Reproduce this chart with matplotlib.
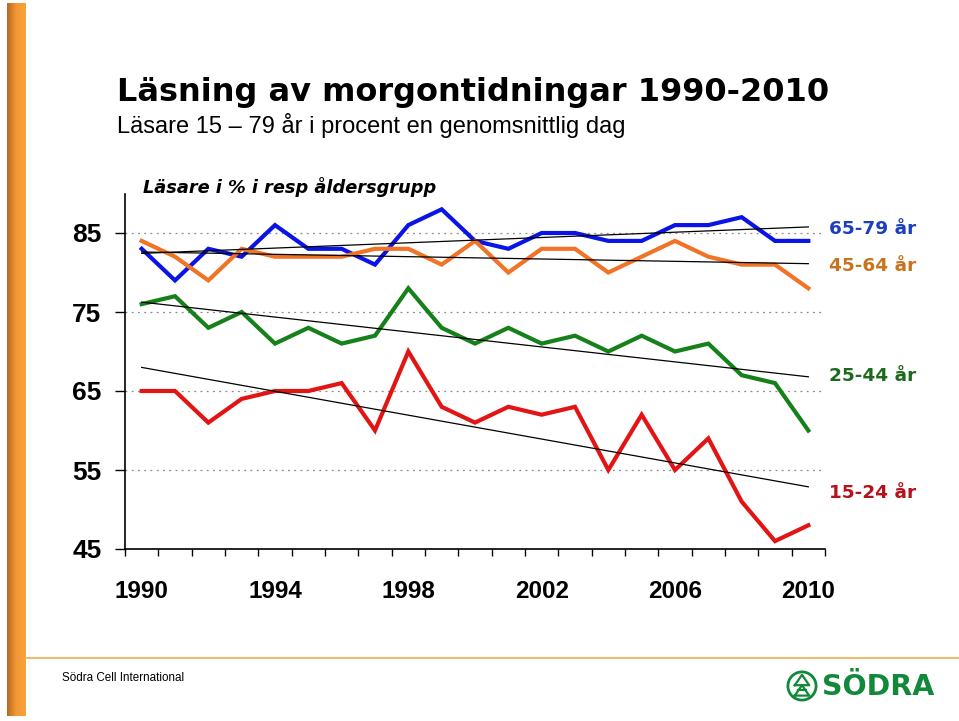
import numpy as np
import matplotlib
matplotlib.use("Agg")
import matplotlib.pyplot as plt
from matplotlib.patches import Circle
from matplotlib.lines import Line2D

# data (percent readers per age group)
years = list(range(1990, 2011))
age_65_79 = [83, 79, 83, 82, 86, 83, 83, 81, 86, 88, 84, 83, 85, 85, 84, 84, 86, 86, 87, 84, 84]
age_45_64 = [84, 82, 79, 83, 82, 82, 82, 83, 83, 81, 84, 80, 83, 83, 80, 82, 84, 82, 81, 81, 78]
age_25_44 = [76, 77, 73, 75, 71, 73, 71, 72, 78, 73, 71, 73, 71, 72, 70, 72, 70, 71, 67, 66, 60]
age_15_24 = [65, 65, 61, 64, 65, 65, 66, 60, 70, 63, 61, 63, 62, 63, 55, 62, 55, 59, 51, 46, 48]

series = [
    ("65-79 år", age_65_79, "#0a14e6", "#1b3fbf", 229),
    ("45-64 år", age_45_64, "#f07326", "#c8731e", 266),
    ("25-44 år", age_25_44, "#16801a", "#1b6b1b", 376),
    ("15-24 år", age_15_24, "#e31414", "#b5121b", 493),
]
y_ticks = [45, 55, 65, 75, 85]
x_label_years = [1990, 1994, 1998, 2002, 2006, 2010]

W, H = 959, 721
fig = plt.figure(figsize=(W / 100, H / 100), dpi=100)


def fx(px):
    return px / W


def fy(py):
    return 1 - py / H


# orange gradient bar on the left
bar = fig.add_axes([fx(7), fy(716), fx(19), (716 - 3) / H])
grad = np.linspace(0, 1, 64).reshape(1, -1)
cmap = matplotlib.colors.LinearSegmentedColormap.from_list("bar", ["#b8691f", "#f59a35", "#f8a23a"])
bar.imshow(grad, aspect="auto", cmap=cmap)
bar.axis("off")

# footer line
fig.add_artist(Line2D([fx(26), 1.0], [fy(658), fy(658)], color="#f3b968", lw=1.4))

# titles
fig.text(fx(117), fy(92), "Läsning av morgontidningar 1990-2010", fontsize=23,
         fontweight="bold", family="DejaVu Sans", va="center", ha="left")
fig.text(fx(117), fy(125), "Läsare 15 – 79 år i procent en genomsnittlig dag", fontsize=17,
         family="Liberation Sans", va="center", ha="left")
fig.text(fx(143), fy(187), "Läsare i % i resp åldersgrupp", fontsize=12.8,
         fontweight="bold", fontstyle="italic", family="DejaVu Sans", va="center", ha="left")

# main chart
ax = fig.add_axes([fx(125), fy(549), fx(700), (549 - 193.5) / H])
x = np.arange(len(years))
for label, vals, col, tcol, ly in series:
    ax.plot(x, vals, color=col, lw=3, solid_joinstyle="miter", zorder=3)
    k, m = np.polyfit(x, vals, 1)
    ax.plot(x, k * x + m, color="black", lw=0.9, zorder=4)
    fig.text(fx(829), fy(ly), label, color=tcol, fontsize=13.3, fontweight="bold",
             family="DejaVu Sans", va="center", ha="left")

ax.set_xlim(-0.5, len(years) - 0.5)
ax.set_ylim(45, 90)
ax.set_yticks(y_ticks)
ax.set_yticklabels([str(v) for v in y_ticks], fontsize=19, fontweight="bold",
                   family="Liberation Sans")
for v in y_ticks[1:]:
    ax.axhline(v, color="#8a8a8a", lw=0.9, ls=(0, (1.5, 3.5)), zorder=1)

ax.set_xticks(np.arange(-0.5, len(years), 1.0))
ax.set_xticklabels([])
ax.set_xticks([years.index(y) for y in x_label_years], minor=True)
ax.set_xticklabels([str(y) for y in x_label_years], minor=True, fontsize=17.5,
                   fontweight="bold", family="Liberation Sans")
ax.tick_params(axis="x", which="major", direction="out", length=5, width=1)
ax.tick_params(axis="x", which="minor", length=0, pad=22)
ax.tick_params(axis="y", direction="out", length=7, width=1, pad=10)
ax.spines["top"].set_visible(False)
ax.spines["right"].set_visible(False)
ax.spines["left"].set_linewidth(1.2)
ax.spines["bottom"].set_linewidth(1.2)
ax.patch.set_alpha(0)

# footer text and logo
fig.text(fx(62), fy(678), "Södra Cell International", fontsize=8.4,
         family="Liberation Sans", va="center", ha="left")
logo = fig.add_axes([fx(786), fy(702), fx(32), 32 / H])
logo.set_xlim(-1, 1)
logo.set_ylim(-1, 1)
logo.set_aspect("equal")
logo.axis("off")
green = "#12883a"
logo.add_patch(Circle((0, 0), 0.88, fill=False, ec=green, lw=2))
logo.plot([-0.45, 0, 0.45, -0.45], [0.05, 0.7, 0.05, 0.05], color=green, lw=1.6)
logo.plot([-0.45, 0, 0.45, -0.45], [-0.6, 0.05, -0.6, -0.6], color=green, lw=1.6)
logo.plot([-0.25, 0.25], [-0.25, -0.25], color=green, lw=1.6)
fig.text(fx(822), fy(687), "SÖDRA", color=green, fontsize=20.5, fontweight="bold",
         family="DejaVu Sans", va="center", ha="left")

fig.savefig("out.png", dpi=100)
